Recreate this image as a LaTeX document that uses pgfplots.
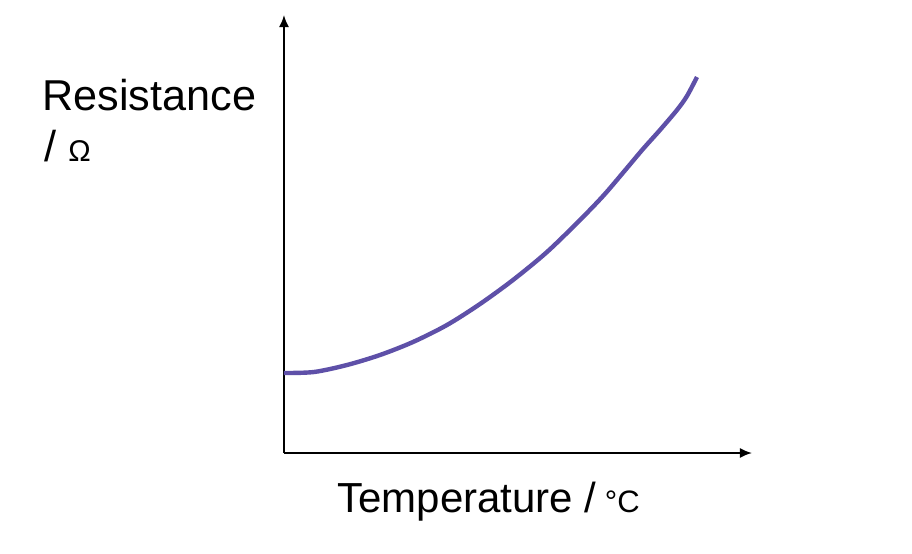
\documentclass[border=0pt]{standalone}
\usepackage{pgfplots}
\pgfplotsset{compat=1.18}
\usepackage{fontspec}
\setmainfont{Liberation Sans}
\usetikzlibrary{arrows.meta}
\definecolor{curve}{RGB}{94,80,168}

\begin{document}
\begin{tikzpicture}
\begin{axis}[
    x=0.5pt, y=0.5pt,
    xmin=0, xmax=468, ymin=0, ymax=438,
    axis lines=left,
    axis line style={line width=0.9pt, -{Latex[length=6pt,width=5pt]}},
    xtick=\empty, ytick=\empty,
    clip=false,
]
    % resistance rises with temperature
    \addplot[color=curve, line width=2.2pt, smooth] coordinates {
        (0,80) (30,81) (63,88) (96,98) (129,111) (163,128) (196,149)
        (229,173) (263,201) (296,233) (320,258) (343,285) (359,304)
        (376,323) (393,343) (403,357) (413,376)
    };
    \node[anchor=base west, font=\fontsize{21.6}{26}\selectfont, inner sep=0pt]
        at (axis cs:-242,343) {Resistance};
    \node[anchor=base west, font=\fontsize{21.6}{26}\selectfont, inner sep=0pt]
        at (axis cs:-240,292) {/ {\fontsize{15}{18}\selectfont Ω}};
    \node[anchor=base west, font=\fontsize{21}{25}\selectfont, inner sep=0pt]
        at (axis cs:53,-59) {Temperature /\kern0.2em{\fontsize{15.5}{18}\selectfont °C}};
    \coordinate (bl) at (axis cs:-284,-100);
    \coordinate (tr) at (axis cs:628,453);
\end{axis}
\path (bl) rectangle (tr);
\end{tikzpicture}
\end{document}
